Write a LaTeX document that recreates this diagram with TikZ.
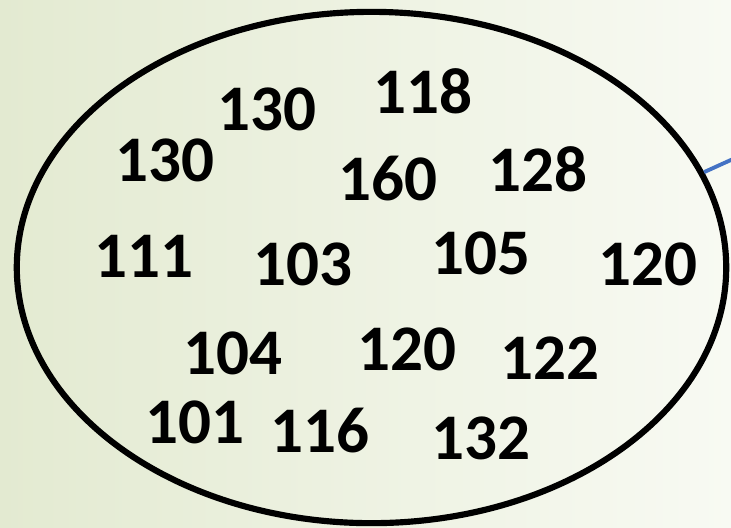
\documentclass[tikz,border=0pt]{standalone}
\usepackage{fontspec}
\setmainfont{Carlito}
\usepackage{xcolor}
\usetikzlibrary{shapes.geometric, calc}

\definecolor{bgleft}{HTML}{E3EAD1}
\definecolor{bgright}{HTML}{F8FAF3}
\definecolor{linkblue}{HTML}{4472C4}

\begin{document}
\begin{tikzpicture}[
    x=0.01cm, y=-0.01cm,
    num/.style={inner sep=0pt, font=\fontsize{18.5}{22}\selectfont\bfseries},
    setline/.style={ellipse, draw, line width=1.75pt, minimum width=7.09cm, minimum height=5.11cm, inner sep=0pt}
]
    % background
    \fill[left color=bgleft, right color=bgright] (0,0) rectangle (731,527);
    \useasboundingbox (0,0) rectangle (731,527);

    \node[setline] (set) at (371.5,267.5) {};
    \coordinate (out) at (733,159);
    \draw[linkblue, line width=1.1pt] (set.16) -- (out);

    % values
    \node[num] (v1) at (165,160) {130};
    \node[num] (v2) at (267,109) {130};
    \node[num] (v3) at (422.5,91) {118};
    \node[num] (v4) at (388,179) {160};
    \node[num] (v5) at (538,169) {128};
    \node[num] (v6) at (144,256) {111};
    \node[num] (v7) at (302.5,264.5) {103};
    \node[num] (v8) at (480.5,253.5) {105};
    \node[num] (v9) at (648,264.5) {120};
    \node[num] (v10) at (232.5,353) {104};
    \node[num] (v11) at (406.5,349.5) {120};
    \node[num] (v12) at (549.5,358.5) {122};
    \node[num] (v13) at (195,422.5) {101};
    \node[num] (v14) at (320,431) {116};
    \node[num] (v15) at (481,438) {132};
\end{tikzpicture}
\end{document}
